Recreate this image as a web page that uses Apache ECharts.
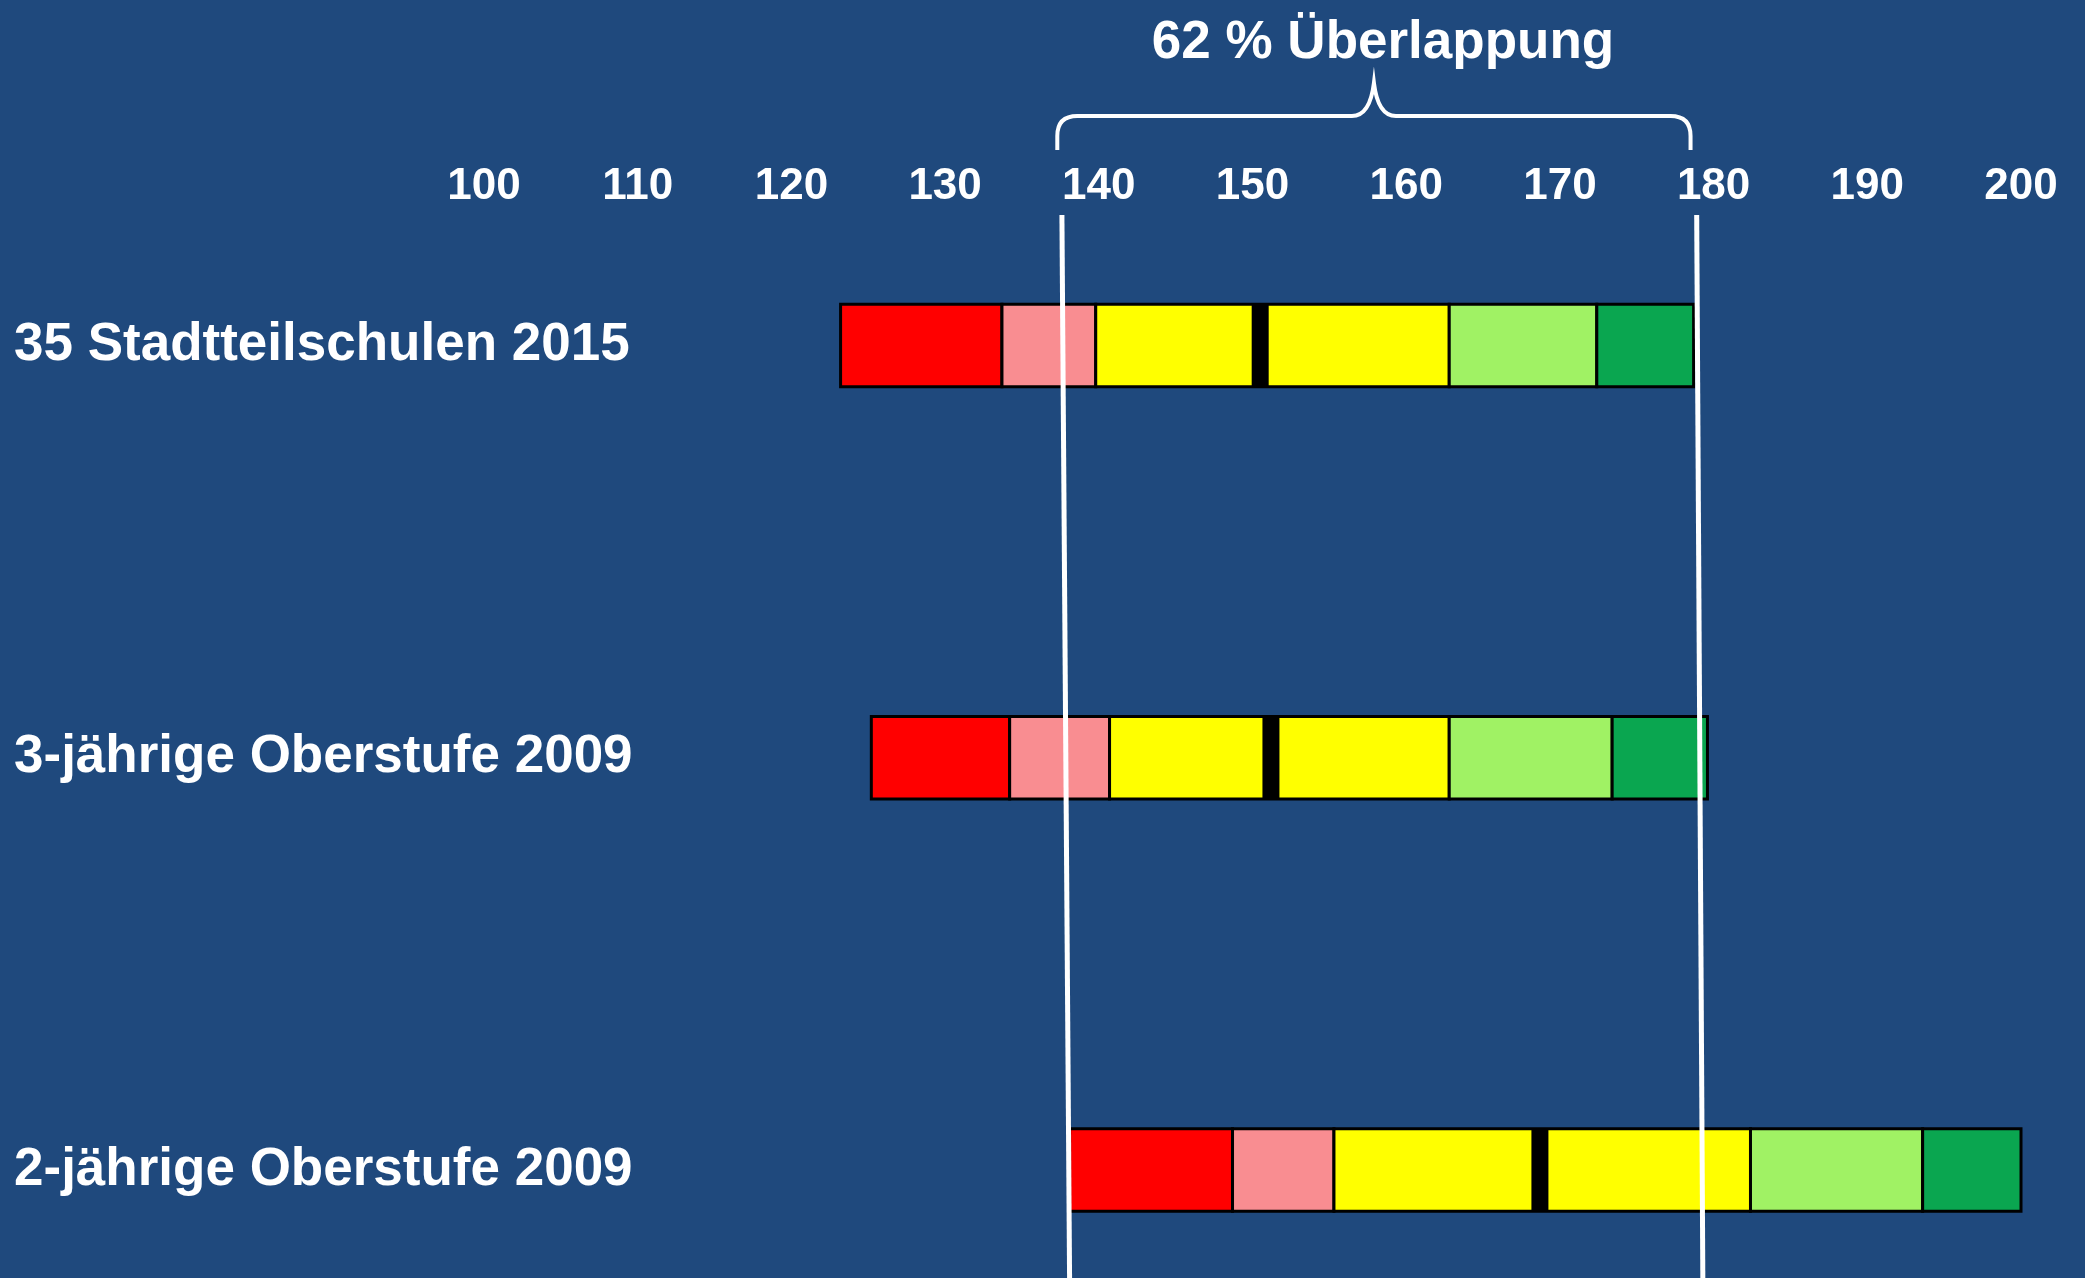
<!DOCTYPE html>
<html>

<head>
    <meta charset="UTF-8">
    <title>Überlappung</title>
    <script src="https://cdn.jsdelivr.net/npm/echarts@6/dist/echarts.min.js"></script>
    <style>
        html, body { margin: 0; padding: 0; background: #1F497D; }
    </style>
</head>

<body>
    <div id="main" style="width: 2085px; height: 1278px;"></div>

    <script>
        // Schulformen (von oben nach unten)
        var rows = ['35 Stadtteilschulen 2015', '3-jährige Oberstufe 2009', '2-jährige Oberstufe 2009'];

        // Perzentil-Grenzen je Zeile
        var lowest = [123.2, 125.2, 138.1];
        var p10 = [133.7, 134.2, 148.7];
        var p25 = [139.8, 140.7, 155.3];
        var median = [150.5, 151.2, 168.7];
        var p75 = [162.8, 162.8, 182.4];
        var p90 = [172.4, 173.4, 193.6];
        var highest = [178.7, 179.6, 200];

        var xTicks = [100, 110, 120, 130, 140, 150, 160, 170, 180, 190, 200];

        // Überlappungsbereich: [oben, unten] der beiden weissen Linien
        var overlapLeft = [137.6, 138.1];
        var overlapRight = [178.9, 179.3];
        var braceRange = [137.3, 178.5];
        var overlapText = '62 % Überlappung';

        var segColors = ['#FF0000', '#F98D91', '#FFFF00', '#A0F264', '#0AA650'];

        var segData = [];
        var medianData = [];
        for (var i = 0; i < rows.length; i++) {
            segData.push([lowest[i], p10[i], i, 0]);
            segData.push([p10[i], p25[i], i, 1]);
            segData.push([p25[i], p75[i], i, 2]);
            segData.push([p75[i], p90[i], i, 3]);
            segData.push([p90[i], highest[i], i, 4]);
            medianData.push([median[i], i]);
        }

        var myChart = echarts.init(document.getElementById('main'));
        var font = '"Liberation Sans", Arial, sans-serif';

        var option = {
            animation: false,
            backgroundColor: '#1F497D',
            grid: { left: 484, right: 64, top: 345.5, bottom: 108 },
            xAxis: {
                type: 'value',
                position: 'top',
                min: xTicks[0],
                max: xTicks[xTicks.length - 1],
                interval: 10,
                axisLine: { show: false },
                axisTick: { show: false },
                splitLine: { show: false },
                axisLabel: {
                    color: '#fff', fontSize: 44, fontWeight: 'bold', fontFamily: font, margin: 137
                }
            },
            yAxis: {
                type: 'value',
                inverse: true,
                min: 0,
                max: rows.length - 1,
                interval: 1,
                axisLine: { show: false },
                axisTick: { show: false },
                splitLine: { show: false },
                axisLabel: {
                    color: '#fff', fontSize: 53, fontWeight: 'bold', fontFamily: font,
                    align: 'left', margin: 470,
                    formatter: function (v) { return rows[v]; }
                }
            },
            graphic: [{
                type: 'text',
                x: 1383,
                y: 43,
                style: {
                    text: overlapText, fill: '#fff', font: 'bold 53px ' + font,
                    textAlign: 'center', textVerticalAlign: 'middle'
                }
            }],
            series: [
                {
                    type: 'custom',
                    data: segData,
                    encode: { x: [0, 1], y: 2 },
                    renderItem: function (params, api) {
                        var a = api.coord([api.value(0), api.value(2)]);
                        var b = api.coord([api.value(1), api.value(2)]);
                        var h = api.size([0, 1])[1] * 0.2;
                        return {
                            type: 'rect',
                            shape: { x: a[0], y: a[1] - h / 2, width: b[0] - a[0], height: h },
                            style: { fill: segColors[api.value(3)], stroke: '#000', lineWidth: 3 }
                        };
                    }
                },
                {
                    type: 'custom',
                    data: medianData,
                    encode: { x: 0, y: 1 },
                    renderItem: function (params, api) {
                        var c = api.coord([api.value(0), api.value(1)]);
                        var h = api.size([0, 1])[1] * 0.2;
                        return {
                            type: 'rect',
                            shape: { x: c[0] - 8.5, y: c[1] - h / 2, width: 17, height: h },
                            style: { fill: '#000' }
                        };
                    }
                },
                {
                    type: 'custom',
                    clip: false,
                    data: [[overlapLeft[0], overlapLeft[1], overlapRight[0], overlapRight[1]]],
                    encode: { x: [0, 1, 2, 3] },
                    renderItem: function (params, api) {
                        var x = function (v) { return api.coord([v, 0])[0]; };
                        var top = 215, bottom = api.getHeight();
                        var L = x(braceRange[0]), R = x(braceRange[1]), M = (L + R) / 2;
                        var hy = 116, ey = 150, ty = 83, r = 20;
                        var brace = 'M' + L + ',' + ey + ' L' + L + ',' + (hy + r) +
                            ' Q' + L + ',' + hy + ' ' + (L + r) + ',' + hy +
                            ' L' + (M - 22) + ',' + hy +
                            ' Q' + (M - 4) + ',' + hy + ' ' + M + ',' + ty +
                            ' Q' + (M + 4) + ',' + hy + ' ' + (M + 22) + ',' + hy +
                            ' L' + (R - r) + ',' + hy +
                            ' Q' + R + ',' + hy + ' ' + R + ',' + (hy + r) +
                            ' L' + R + ',' + ey;
                        var lineStyle = { stroke: '#fff', lineWidth: 5 };
                        return {
                            type: 'group',
                            children: [
                                { type: 'line', shape: { x1: x(api.value(0)), y1: top, x2: x(api.value(1)), y2: bottom }, style: lineStyle },
                                { type: 'line', shape: { x1: x(api.value(2)), y1: top, x2: x(api.value(3)), y2: bottom }, style: lineStyle },
                                { type: 'path', shape: { pathData: brace }, style: { stroke: '#fff', lineWidth: 4, fill: null } }
                            ]
                        };
                    }
                }
            ]
        };

        myChart.setOption(option);
    </script>
</body>

</html>
